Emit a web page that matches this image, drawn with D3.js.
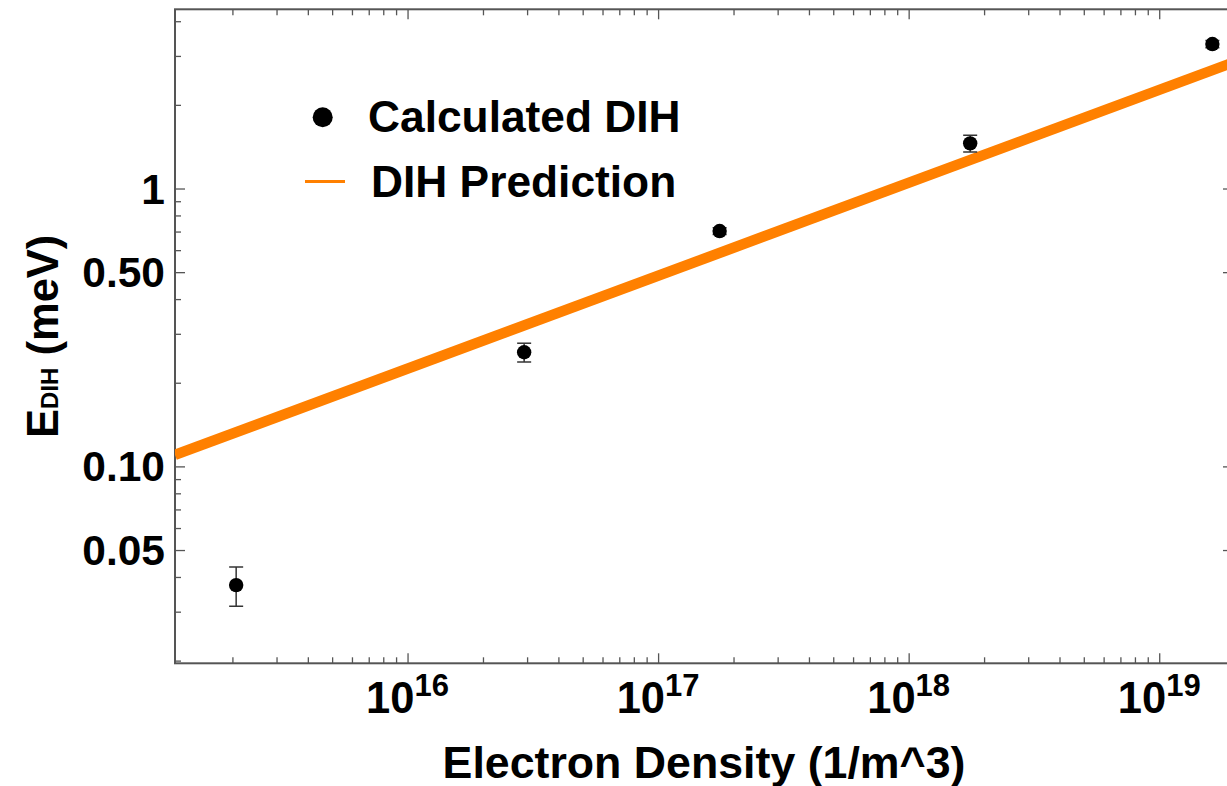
<!DOCTYPE html>
<html>
<head>
<meta charset="utf-8">
<script src="https://cdn.jsdelivr.net/npm/d3@7"></script>
<style>
  html, body { margin: 0; padding: 0; background: #fff; }
  svg { display: block; font-family: "Liberation Sans", Arial, sans-serif; font-weight: bold; }
</style>
</head>
<body>
<svg id="chart" width="1227" height="786"></svg>
<script>
// Calculated DIH energies vs electron density, with error bars
const densities = [2.07e15, 2.92e16, 1.76e17, 1.76e18, 1.63e19];
const energies  = [0.0374, 0.2575, 0.703, 1.454, 3.31];
const errors    = [0.006, 0.02, 0.02, 0.1, 0.1];

// DIH prediction line (E ∝ n^(1/3)), endpoints at the plot edges
const predictionDensity = [1.18e15, 1.97e19];
const predictionEnergy  = [0.110, 2.84];

// Axis ranges and labelled ticks
const xDomain = [1.18e15, 1.97e19];
const yDomain = [0.01956, 4.415];
const xMajorTicks = [1e16, 1e17, 1e18, 1e19];
const xMajorExponents = ["16", "17", "18", "19"];
const yMajorTicks = [0.05, 0.1, 0.5, 1];
const yMajorLabels = ["0.05", "0.10", "0.50", "1"];

const seriesLabels = ["Calculated DIH", "DIH Prediction"];
const xTitle = "Electron Density (1/m^3)";

const plotLeft = 175, plotRight = 1233, plotTop = 9.3, plotBottom = 663.3;
const frameColor = "#555";
const orange = "#ff8000";

const svg = d3.select("#chart");

const x = d3.scaleLog().domain(xDomain).range([plotLeft, plotRight]);
const y = d3.scaleLog().domain(yDomain).range([plotBottom, plotTop]);

const xMinor = x.ticks().filter(v => !xMajorTicks.some(m => Math.abs(m - v) / m < 1e-6));
const yMinor = y.ticks().filter(v => !yMajorTicks.some(m => Math.abs(m - v) / m < 1e-6));

// Ticks on all four sides, pointing inwards
function drawTicks(axisFn, translate, values, size) {
  const g = svg.append("g")
    .attr("transform", translate)
    .call(axisFn.tickValues(values).tickSize(size).tickFormat(""));
  g.select(".domain").remove();
  g.selectAll(".tick line").attr("stroke", frameColor).attr("stroke-width", 1.3);
  g.selectAll(".tick text").remove();
  return g;
}
drawTicks(d3.axisBottom(x), `translate(0,${plotBottom})`, xMinor, -6);
drawTicks(d3.axisBottom(x), `translate(0,${plotBottom})`, xMajorTicks, -10);
drawTicks(d3.axisTop(x), `translate(0,${plotTop})`, xMinor, -6);
drawTicks(d3.axisTop(x), `translate(0,${plotTop})`, xMajorTicks, -10);
drawTicks(d3.axisLeft(y), `translate(${plotLeft},0)`, yMinor, -6);
drawTicks(d3.axisLeft(y), `translate(${plotLeft},0)`, yMajorTicks, -10);
drawTicks(d3.axisRight(y), `translate(${plotRight},0)`, yMinor, -6);
drawTicks(d3.axisRight(y), `translate(${plotRight},0)`, yMajorTicks, -10);

// Frame
svg.append("rect")
  .attr("x", plotLeft).attr("y", plotTop)
  .attr("width", plotRight - plotLeft).attr("height", plotBottom - plotTop)
  .attr("fill", "none").attr("stroke", frameColor).attr("stroke-width", 2);

// Tick labels
const xLab = svg.append("g").selectAll("text").data(xMajorTicks).join("text")
  .attr("x", d => x(d)).attr("y", 713.3)
  .attr("text-anchor", "middle").attr("font-size", 43.5).attr("fill", "#000");
xLab.append("tspan").text("10");
xLab.append("tspan").attr("dy", -17.6).attr("font-size", 31).text((d, i) => xMajorExponents[i]);

svg.append("g").selectAll("text").data(yMajorTicks).join("text")
  .attr("x", 165).attr("y", d => y(d) + 15)
  .attr("text-anchor", "end").attr("font-size", 42.5).attr("fill", "#000")
  .text((d, i) => yMajorLabels[i]);

// Axis titles
svg.append("text")
  .attr("x", (plotLeft + plotRight) / 2).attr("y", 778)
  .attr("text-anchor", "middle").attr("font-size", 44.7).attr("fill", "#000")
  .text(xTitle);

const yt = svg.append("text")
  .attr("transform", `translate(58,${(plotTop + plotBottom) / 2}) rotate(-90)`)
  .attr("text-anchor", "middle").attr("font-size", 43.5).attr("fill", "#000");
yt.append("tspan").text("E");
yt.append("tspan").attr("font-size", 24).text("DIH");
yt.append("tspan").text(" (meV)");

// Plot contents, clipped to the frame
svg.append("clipPath").attr("id", "plotClip")
  .append("rect").attr("x", plotLeft).attr("y", plotTop)
  .attr("width", plotRight - plotLeft).attr("height", plotBottom - plotTop);
const plot = svg.append("g").attr("clip-path", "url(#plotClip)");

const line = d3.line().x(d => x(d[0])).y(d => y(d[1]));
plot.append("path")
  .datum(d3.zip(predictionDensity, predictionEnergy))
  .attr("d", line)
  .attr("fill", "none").attr("stroke", orange).attr("stroke-width", 10.5);

const pts = d3.zip(densities, energies, errors);
const eb = plot.append("g").attr("stroke", "#333").attr("stroke-width", 1.5);
eb.selectAll("line.v").data(pts).join("line").attr("class", "v")
  .attr("x1", d => x(d[0])).attr("x2", d => x(d[0]))
  .attr("y1", d => y(d[1] + d[2])).attr("y2", d => y(d[1] - d[2]));
eb.selectAll("line.t").data(pts).join("line").attr("class", "t")
  .attr("x1", d => x(d[0]) - 7).attr("x2", d => x(d[0]) + 7)
  .attr("y1", d => y(d[1] + d[2])).attr("y2", d => y(d[1] + d[2]));
eb.selectAll("line.b").data(pts).join("line").attr("class", "b")
  .attr("x1", d => x(d[0]) - 7).attr("x2", d => x(d[0]) + 7)
  .attr("y1", d => y(d[1] - d[2])).attr("y2", d => y(d[1] - d[2]));

plot.selectAll("circle").data(pts).join("circle")
  .attr("cx", d => x(d[0])).attr("cy", d => y(d[1]))
  .attr("r", 7.2).attr("fill", "#000");

// Legend
const legend = svg.append("g");
legend.append("circle").attr("cx", 322.7).attr("cy", 117.3).attr("r", 10).attr("fill", "#000");
legend.append("text").attr("x", 368).attr("y", 132)
  .attr("font-size", 44.3).attr("fill", "#000").text(seriesLabels[0]);
legend.append("line").attr("x1", 305).attr("x2", 345).attr("y1", 181.5).attr("y2", 181.5)
  .attr("stroke", orange).attr("stroke-width", 3);
legend.append("text").attr("x", 371).attr("y", 197)
  .attr("font-size", 44.3).attr("fill", "#000").text(seriesLabels[1]);
</script>
</body>
</html>
